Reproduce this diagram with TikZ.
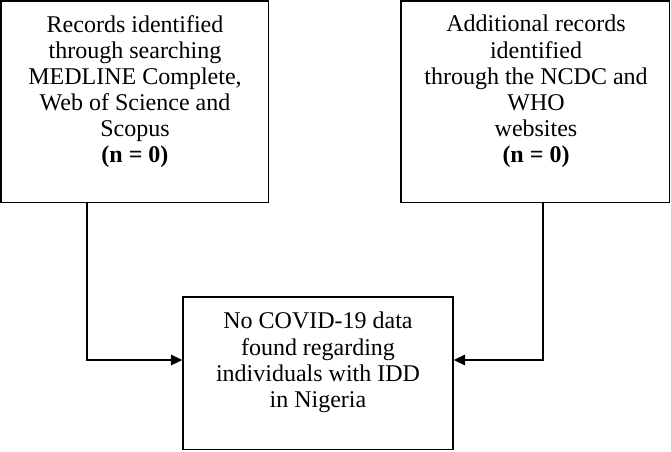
\documentclass[tikz,border=0pt]{standalone}
\usepackage{fontspec}
\setmainfont{Liberation Serif}
\usetikzlibrary{arrows.meta}
\tikzset{
  boxnode/.style={draw=black, line width=1.15pt, rectangle, inner sep=0pt},
  boxtext/.style={anchor=north, align=center, inner sep=0pt,
    font=\fontsize{18pt}{19.6pt}\selectfont},
  conn/.style={draw=black, line width=0.8pt, -{Triangle[length=8.5pt,width=8pt]}}
}
\begin{document}
\begin{tikzpicture}[x=0.75pt, y=-0.75pt]
\useasboundingbox (0,0) rectangle (671,451);
\node[boxnode, minimum width=200.6pt, minimum height=151.1pt] (lbox) at (134.75,101.75) {};
\node[boxnode, minimum width=201.4pt, minimum height=151.1pt] (rbox) at (535.25,101.75) {};
\node[boxnode, minimum width=202.5pt, minimum height=114.4pt] (bbox) at (318,373.25) {};
\node[boxtext] (ltext) at (135,15) {Records identified\\through searching\\MEDLINE Complete,\\Web of Science and\\Scopus\\\textbf{(n = 0)}};
\node[boxtext] (rtext) at (536,15) {Additional records\\identified\\through the NCDC and\\WHO\\websites\\\textbf{(n = 0)}};
\node[boxtext] (btext) at (318,312) {No COVID-19 data\\found regarding\\individuals with IDD\\in Nigeria};
\coordinate (lt) at (87,360);
\coordinate (rt) at (543,360);
\draw[conn] (lbox.south -| lt) |- (bbox.west |- lt);
\draw[conn] (rbox.south -| rt) |- (bbox.east |- rt);
\end{tikzpicture}
\end{document}
